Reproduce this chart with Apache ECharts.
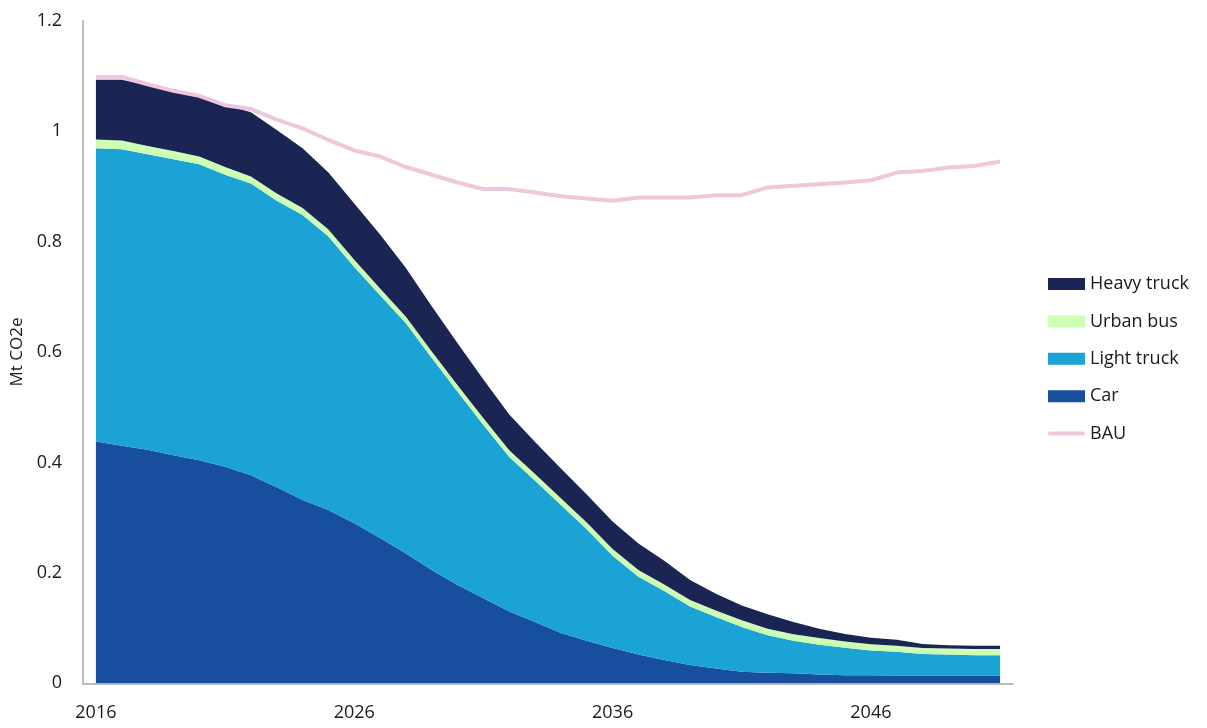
<!DOCTYPE html>
<html>
<head>
<meta charset="utf-8">
<script src="https://cdn.jsdelivr.net/npm/echarts@6/dist/echarts.min.js"></script>
<style>
html,body{margin:0;padding:0;background:#fff;}
#chart{width:1207px;height:728px;}
</style>
</head>
<body>
<div id="chart"></div>
<script>
const years = ['2016','2017','2018','2019','2020','2021','2022','2023','2024','2025','2026','2027','2028','2029','2030','2031','2032','2033','2034','2035','2036','2037','2038','2039','2040','2041','2042','2043','2044','2045','2046','2047','2048','2049','2050','2051'];
const car = [0.438,0.430,0.423,0.413,0.404,0.392,0.377,0.355,0.332,0.314,0.290,0.263,0.235,0.205,0.178,0.154,0.130,0.111,0.091,0.077,0.064,0.052,0.042,0.033,0.027,0.021,0.019,0.018,0.016,0.0145,0.0145,0.014,0.014,0.014,0.014,0.014];
const lightTruck = [0.531,0.537,0.535,0.536,0.536,0.529,0.528,0.519,0.516,0.495,0.464,0.440,0.417,0.384,0.350,0.314,0.280,0.256,0.232,0.202,0.167,0.141,0.125,0.106,0.093,0.081,0.068,0.059,0.054,0.050,0.045,0.043,0.039,0.038,0.037,0.037];
const urbanBus = [0.016,0.016,0.015,0.015,0.014,0.014,0.013,0.013,0.013,0.013,0.013,0.012,0.012,0.012,0.012,0.012,0.012,0.012,0.012,0.012,0.012,0.012,0.012,0.012,0.012,0.012,0.012,0.012,0.012,0.011,0.011,0.011,0.011,0.011,0.011,0.011];
const heavyTruck = [0.108,0.110,0.110,0.110,0.111,0.113,0.116,0.115,0.108,0.103,0.102,0.098,0.088,0.082,0.076,0.070,0.065,0.058,0.054,0.051,0.050,0.048,0.043,0.036,0.030,0.027,0.026,0.022,0.017,0.014,0.012,0.011,0.007,0.006,0.006,0.006];
const bau = [1.098,1.098,1.085,1.073,1.064,1.047,1.040,1.021,1.005,0.984,0.965,0.954,0.935,0.921,0.907,0.895,0.895,0.889,0.882,0.878,0.874,0.880,0.880,0.880,0.884,0.884,0.898,0.901,0.904,0.907,0.911,0.925,0.928,0.934,0.937,0.945];
const legendOrder = ['Heavy truck','Urban bus','Light truck','Car','BAU'];

const FONT = '"Open Sans", "Noto Sans", sans-serif';
const TXT = '#1a1a1a';
const BAU_ICON = 'path://M0,0L0.01,0ZM0,12L0.01,12ZM2,4L35,4A2,2,0,0,1,35,8L2,8A2,2,0,0,1,2,4Z';

function areaSeries(name, data, color) {
  return {
    name: name, type: 'line', stack: 'total', data: data,
    symbol: 'none', showSymbol: false,
    lineStyle: { width: 0, color: color },
    itemStyle: { color: color },
    areaStyle: { color: color, opacity: 1 },
    emphasis: { disabled: true }
  };
}

const chart = echarts.init(document.getElementById('chart'), null, { renderer: 'canvas' });
chart.setOption({
  animation: false,
  backgroundColor: '#ffffff',
  textStyle: { fontFamily: FONT, color: TXT },
  grid: { left: 83, right: 194, top: 20.7, bottom: 44.7, containLabel: false },
  legend: {
    orient: 'vertical', left: 1048, top: 275, padding: 0,
    itemWidth: 37, itemHeight: 12, itemGap: 19.4,
    textStyle: { fontFamily: FONT, fontSize: 18, color: TXT, lineHeight: 18 },
    data: legendOrder.map(n => n === 'BAU' ? { name: n, icon: BAU_ICON } : { name: n, icon: 'rect' })
  },
  xAxis: {
    type: 'category', data: years, boundaryGap: true,
    axisLine: { show: true, lineStyle: { color: '#a6a6a6', width: 1.5 } },
    axisTick: { show: false },
    axisLabel: { interval: 9, fontFamily: FONT, fontSize: 18, color: TXT, margin: 21 },
    splitLine: { show: false }
  },
  yAxis: {
    type: 'value', min: 0, max: 1.2, interval: 0.2,
    name: 'Mt CO2e', nameLocation: 'middle', nameGap: 50, nameRotate: 90,
    nameTextStyle: { fontFamily: FONT, fontSize: 17, color: TXT },
    axisLine: { show: true, lineStyle: { color: '#a6a6a6', width: 1.5 } },
    axisTick: { show: false },
    axisLabel: { fontFamily: FONT, fontSize: 18, color: TXT, margin: 21 },
    splitLine: { show: false }
  },
  series: [
    areaSeries('Car', car, '#174f9e'),
    areaSeries('Light truck', lightTruck, '#1aa3d4'),
    areaSeries('Urban bus', urbanBus, '#ccffb3'),
    areaSeries('Heavy truck', heavyTruck, '#1a2554'),
    {
      name: 'BAU', type: 'line', data: bau, symbol: 'none', showSymbol: false,
      lineStyle: { width: 4, color: '#f0c6dc' },
      itemStyle: { color: '#f0c6dc' },
      emphasis: { disabled: true }, z: 5
    }
  ]
});
</script>
</body>
</html>
